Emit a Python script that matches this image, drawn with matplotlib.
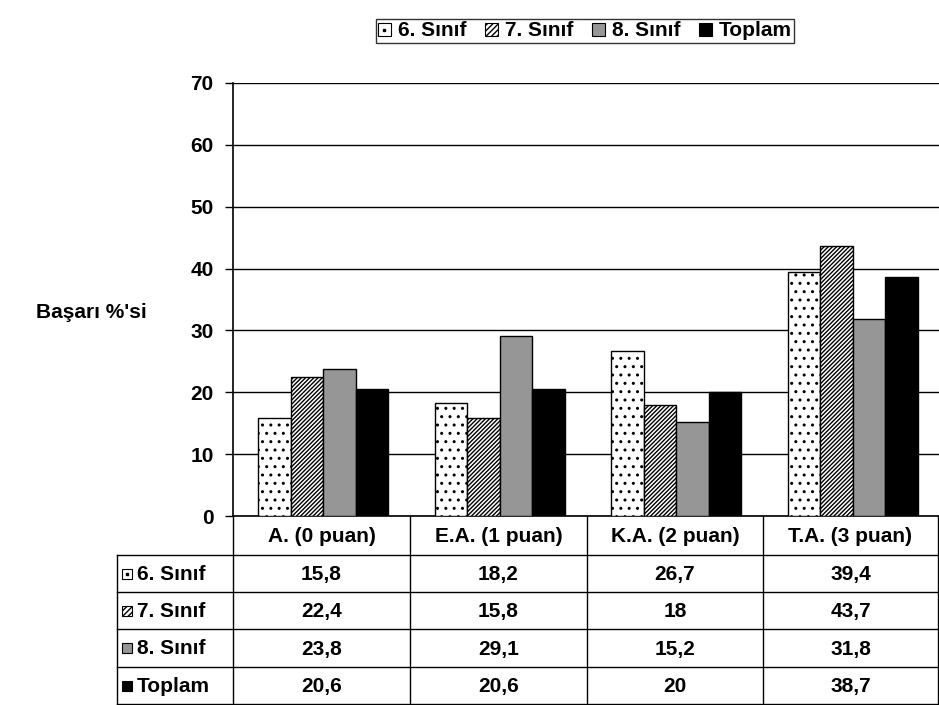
import numpy as np
import matplotlib
matplotlib.use("Agg")
import matplotlib.pyplot as plt
from matplotlib.patches import Rectangle
from matplotlib.lines import Line2D
from matplotlib.legend_handler import HandlerTuple

plt.rcParams['font.family'] = ['Liberation Sans', 'DejaVu Sans']
plt.rcParams['font.weight'] = 'bold'
plt.rcParams['hatch.linewidth'] = 1.0

categories = ["A. (0 puan)", "E.A. (1 puan)", "K.A. (2 puan)", "T.A. (3 puan)"]
series = ["6. Sınıf", "7. Sınıf", "8. Sınıf", "Toplam"]
sinif6 = [15.8, 18.2, 26.7, 39.4]
sinif7 = [22.4, 15.8, 18.0, 43.7]
sinif8 = [23.8, 29.1, 15.2, 31.8]
toplam = [20.6, 20.6, 20.0, 38.7]
values = [sinif6, sinif7, sinif8, toplam]

def fmt(v):
    s = ("%.1f" % v).replace(".", ",")
    return s[:-2] if s.endswith(",0") else s

styles = [dict(facecolor="white", hatch=".."),
          dict(facecolor="white", hatch="////////"),
          dict(facecolor="#969696", hatch=None),
          dict(facecolor="black", hatch=None)]
# small key squares: the dotted one gets a single centre dot instead of a hatch
key_hatch = [None, "//////", None, None]

W, H = 939, 705
FS = 15
fig = plt.figure(figsize=(W / 100, H / 100), dpi=100)
ax = fig.add_axes([233 / W, 1 - 516 / H, 706 / W, 433 / H])

x = np.arange(len(categories))
bw = 0.184
for i, (vals, st) in enumerate(zip(values, styles)):
    ax.bar(x + (i - 1.5) * bw + 0.012, vals, bw, facecolor=st["facecolor"],
           hatch=st["hatch"], edgecolor="black", linewidth=1.0, zorder=3)

ax.set_xlim(-0.5, 3.5)
ax.set_ylim(0, 70)
ax.set_yticks(range(0, 71, 10))
ax.tick_params(axis="y", labelsize=FS, length=6, width=1, pad=8)
ax.set_xticks([])
ax.yaxis.grid(True, color="black", linewidth=1.0, zorder=0)
for s in ["top", "right"]:
    ax.spines[s].set_visible(False)
ax.spines["left"].set_linewidth(1.2)
ax.spines["bottom"].set_linewidth(1.2)

fig.text(36 / W, 1 - 312 / H, "Başarı %'si", fontsize=FS, fontweight="bold",
         ha="left", va="center")

# data table under the axes (pixel positions converted to figure fraction)
def fx(px):
    return px / W

def fy(py):
    return 1 - py / H

col_edges = [233, 410, 587, 763, 938]
label_left = 117
header_bottom = 555
row_edges = [555, 592, 629, 667, 704]

lw = 1.0
for cx in col_edges:
    fig.add_artist(Line2D([fx(cx), fx(cx)], [fy(516), fy(704)], color="black", lw=lw))
fig.add_artist(Line2D([fx(label_left), fx(label_left)], [fy(555), fy(704)], color="black", lw=lw))
for ry in row_edges:
    fig.add_artist(Line2D([fx(label_left), fx(938)], [fy(ry), fy(ry)], color="black", lw=lw))

for j, cat in enumerate(categories):
    cx = (col_edges[j] + col_edges[j + 1]) / 2
    fig.text(fx(cx), fy((516 + header_bottom) / 2 + 1), cat, fontsize=FS,
             ha="center", va="center")
    for i in range(len(series)):
        cy = (row_edges[i] + row_edges[i + 1]) / 2
        fig.text(fx(cx), fy(cy + 1), fmt(values[i][j]), fontsize=FS,
                 ha="center", va="center")

sq = 10
for i, (name, st) in enumerate(zip(series, styles)):
    cy = (row_edges[i] + row_edges[i + 1]) / 2
    fig.add_artist(Rectangle((fx(122), fy(cy + sq / 2)), sq / W, sq / H,
                             facecolor=st["facecolor"], hatch=key_hatch[i],
                             edgecolor="black", lw=0.8, transform=fig.transFigure))
    if i == 0:
        fig.add_artist(Line2D([fx(122 + sq / 2)], [fy(cy)], marker="s", ms=1.5,
                              color="black", ls=""))
    fig.text(fx(137), fy(cy + 1), name, fontsize=FS, ha="left", va="center")

# legend box on top
handles = []
for i, st in enumerate(styles):
    box = Rectangle((0, 0), 1, 1, facecolor=st["facecolor"], hatch=key_hatch[i],
                    edgecolor="black", lw=0.8)
    if i == 0:
        dot = Line2D([], [], marker="s", ms=1.5, color="black", ls="")
        handles.append((box, dot))
    else:
        handles.append(box)
leg = fig.legend(handles, series, loc="center", bbox_to_anchor=(fx(585), fy(31)),
                 ncol=4, frameon=True, fancybox=False, edgecolor="black",
                 fontsize=FS, handlelength=0.6, handleheight=0.6,
                 handletextpad=0.35, columnspacing=0.9, borderpad=0.1,
                 borderaxespad=0,
                 handler_map={tuple: HandlerTuple(ndivide=1, pad=0)})
leg.get_frame().set_linewidth(1.0)
for t in leg.get_texts():
    t.set_fontweight("bold")

fig.savefig("out.png", dpi=100, facecolor="white")
